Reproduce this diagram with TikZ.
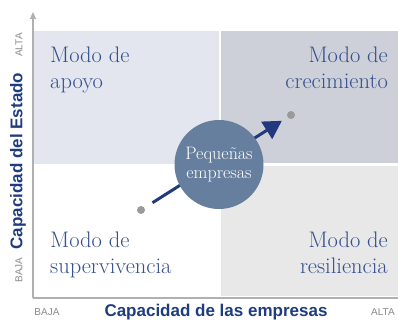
\documentclass[tikz,border=0pt]{standalone}
\usepackage{fontspec}
\newfontfamily\ejes{Liberation Sans}
\usetikzlibrary{arrows.meta,positioning}

\definecolor{azulmodo}{HTML}{34508F}
\definecolor{azuleje}{HTML}{1F3C7E}
\definecolor{azulflecha}{HTML}{22397D}
\definecolor{azulcirculo}{HTML}{667F9E}
\definecolor{grisapoyo}{HTML}{E3E6EE}
\definecolor{grisrecim}{HTML}{CDD0D9}
\definecolor{grisresil}{HTML}{E8E8E8}
\definecolor{grispunto}{HTML}{9A9A9A}
\definecolor{grisetiq}{HTML}{8A8A8A}
\definecolor{grisejes}{HTML}{B0B0B0}

\tikzset{
  modo/.style={inner sep=0pt,text=azulmodo,font=\fontsize{22.5}{26}\selectfont},
  titulo/.style={inner sep=0pt,text=azuleje,font=\ejes\bfseries\fontsize{17}{20}\selectfont},
  nivel/.style={inner sep=0pt,text=grisetiq,font=\ejes\fontsize{10}{12}\selectfont},
  punto/.style={circle,fill=grispunto,inner sep=0pt,minimum size=8pt},
}

\begin{document}
\begin{tikzpicture}[x=1pt,y=1pt]
   \useasboundingbox (0,0) rectangle (398,320);
   % cuadrantes
   \fill[grisapoyo] (34,156) rectangle (219,289);
   \fill[grisrecim] (221,157) rectangle (398,289);
   \fill[grisresil] (221,24) rectangle (398,154);
   % ejes
   \coordinate (origen) at (33,22);
   \coordinate (tope) at (33,308);
   \coordinate (fin_x) at (398,22);
   \draw[grisejes,line width=1.2pt,-{Triangle[length=7pt,width=6pt]}] (origen) -- (tope);
   \draw[grisejes,line width=1.2pt] (origen) -- (fin_x);

   \node[modo,anchor=north west,align=left] (apoyo) at (50,273.5) {Modo de\\apoyo};
   \node[modo,anchor=north east,align=right] (crecimiento) at (388,273.5) {Modo de\\crecimiento};
   \node[modo,anchor=north west,align=left] (supervivencia) at (50,88.3) {Modo de\\supervivencia};
   \node[modo,anchor=north east,align=right] (resiliencia) at (388,88.3) {Modo de\\resiliencia};

   \node[punto] (ini) at (141,110) {};
   \node[punto] (fin) at (291,205) {};
    \path[-{Triangle[length=18pt,width=20pt]},draw=azulflecha,fill=azulflecha,line width=3pt,
          shorten <=9.4pt,shorten >=6.6pt]
    (ini) edge (fin);
   \node[circle,fill=azulcirculo,minimum size=89pt,inner sep=0pt,align=center,
         text=white,font=\fontsize{18}{19.5}\selectfont] (pequenas) at (219,155.5) {Pequeñas\\empresas};

   \node[titulo,rotate=90] (estado) at (18,159) {Capacidad del Estado};
   \node[titulo,anchor=base] (empresas) at (216,3.8) {Capacidad de las empresas};
   \node[nivel,rotate=90] (alta_y) at (19,275) {ALTA};
   \node[nivel,rotate=90] (baja_y) at (19,50) {BAJA};
   \node[nivel,anchor=base] (baja_x) at (47,4.3) {BAJA};
   \node[nivel,anchor=base] (alta_x) at (383,4.3) {ALTA};
\end{tikzpicture}
\end{document}
